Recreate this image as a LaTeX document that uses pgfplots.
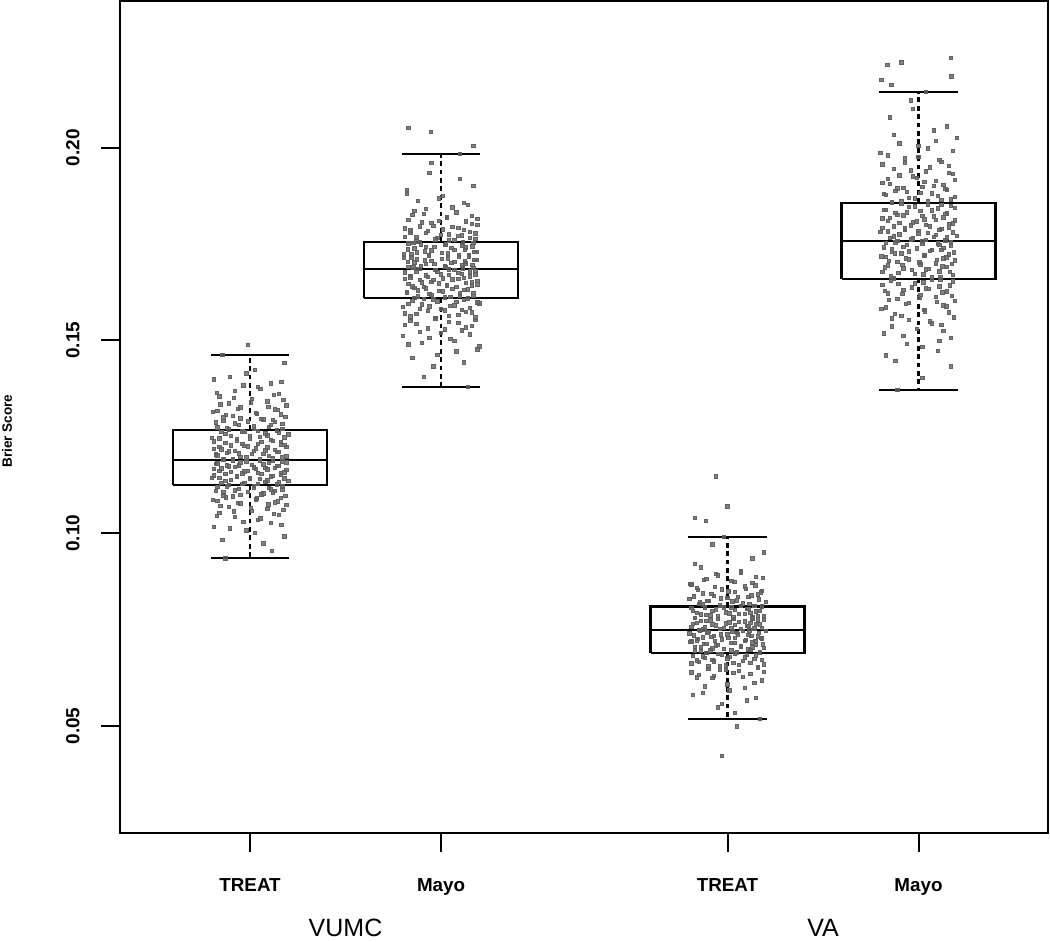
\documentclass[border=0pt]{standalone}
\usepackage{fontspec}
\setmainfont{Liberation Sans}
\usepackage{pgfplots}
\pgfplotsset{compat=1.18}
\begin{document}
\begin{tikzpicture}
\useasboundingbox (-60pt,-54.5pt) rectangle (465pt,416.5pt);
\begin{axis}[
  at={(0,0)}, anchor=south west,
  scale only axis, width=464pt, height=416pt,
  xmin=0.319, xmax=5.178, ymin=0.02225, ymax=0.2380,
  clip=false,
  axis line style={line width=1pt},
  xtick={1,2,3.5,4.5}, xticklabels={TREAT,Mayo,TREAT,Mayo},
  ytick={0.05,0.10,0.15,0.20}, yticklabels={0.05,0.10,0.15,0.20},
  xtick pos=bottom, ytick pos=left,
  tick align=outside, major tick length=9.5pt,
  every tick/.style={black, line width=1pt},
  xticklabel style={font=\fontsize{9.4}{11}\selectfont\bfseries, anchor=north, inner sep=0pt, yshift=-13pt},
  yticklabel style={font=\fontsize{9.5}{11}\selectfont\bfseries, xshift=-10.5pt, rotate=90, anchor=south, inner sep=0pt},
  pts/.style={only marks, mark=square*, mark size=0.85pt, color=black!62, mark options={draw=none, fill opacity=0.8}},
  bx/.style={black, line width=1.1pt, no marks},
  wh/.style={black, line width=1.1pt, no marks, dash pattern=on 2.4pt off 1.8pt},
]
% ---- jittered points: VUMC TREAT ----
\addplot[pts] coordinates {
(0.87,0.0935) (1.07,0.0973) (1.18,0.0992) (0.98,0.1007) (0.81,0.1017) (1.11,0.1026) (1.04,0.1034) (0.92,0.1042) (1.15,0.1047) (0.84,0.1053)
(1.01,0.1058) (1.09,0.1063) (0.89,0.1068) (1.19,0.1073) (0.95,0.1077) (1.13,0.1080) (0.83,0.1084) (1.03,0.1088) (1.16,0.1091) (0.91,0.1095)
(0.86,0.1098) (1.06,0.1101) (1.12,0.1104) (0.99,0.1107) (0.82,0.1110) (1.17,0.1112) (0.94,0.1115) (1.10,0.1118) (0.88,0.1121) (1.02,0.1123)
(1.14,0.1126) (0.96,0.1128) (0.85,0.1131) (1.08,0.1133) (1.20,0.1136) (0.90,0.1138) (1.05,0.1141) (0.80,0.1143) (1.00,0.1144) (1.11,0.1147)
(0.93,0.1149) (1.16,0.1151) (0.87,0.1154) (1.04,0.1156) (1.18,0.1158) (0.97,0.1160) (0.84,0.1162) (1.09,0.1165) (0.81,0.1167) (1.13,0.1169)
(1.02,0.1171) (0.89,0.1173) (1.15,0.1175) (0.94,0.1176) (1.07,0.1178) (0.83,0.1181) (1.19,0.1183) (0.98,0.1185) (1.12,0.1187) (0.91,0.1189)
(0.86,0.1191) (1.05,0.1193) (1.17,0.1196) (0.95,0.1198) (1.10,0.1200) (0.82,0.1204) (1.01,0.1206) (0.88,0.1208) (1.14,0.1211) (0.92,0.1213)
(1.08,0.1215) (0.85,0.1217) (1.03,0.1220) (1.19,0.1223) (0.99,0.1225) (0.90,0.1228) (1.16,0.1230) (0.96,0.1232) (1.06,0.1236) (0.81,0.1238)
(1.12,0.1240) (0.93,0.1244) (0.84,0.1246) (1.18,0.1248) (1.00,0.1252) (1.09,0.1254) (0.87,0.1257) (1.15,0.1260) (0.97,0.1263) (1.04,0.1265)
(0.89,0.1269) (1.17,0.1271) (0.83,0.1274) (1.02,0.1278) (1.11,0.1281) (0.92,0.1285) (1.13,0.1288) (0.86,0.1291) (1.07,0.1295) (0.95,0.1298)
(1.185,0.1302) (0.875,0.1306) (1.035,0.1310) (0.805,0.1314) (1.145,0.1319) (0.935,0.1323) (1.095,0.1328) (0.845,0.1334) (1.005,0.1339) (1.175,0.1345)
(0.915,0.1351) (1.125,0.1358) (0.825,0.1364) (1.055,0.1374) (0.965,0.1383) (1.165,0.1393) (0.895,0.1405) (1.025,0.1423) (0.855,0.1462) (0.99,0.1488)
};
\addplot[pts] coordinates {
(1.115,0.0954) (0.855,0.0982) (1.025,0.1000) (0.895,0.1012) (1.165,0.1022) (0.965,0.1030) (1.055,0.1038) (0.825,0.1045) (1.125,0.1050) (0.915,0.1056)
(1.175,0.1061) (1.005,0.1066) (0.845,0.1071) (1.095,0.1075) (0.935,0.1079) (1.145,0.1082) (0.805,0.1086) (1.035,0.1090) (0.875,0.1093) (1.185,0.1097)
(0.95,0.1100) (1.07,0.1103) (0.86,0.1106) (1.13,0.1109) (0.92,0.1111) (1.11,0.1114) (1.02,0.1117) (0.83,0.1120) (1.17,0.1122) (0.89,0.1125)
(1.04,0.1127) (0.97,0.1130) (1.15,0.1132) (0.87,0.1135) (1.09,0.1137) (1.00,0.1140) (1.18,0.1142) (0.84,0.1144) (0.93,0.1146) (1.12,0.1148)
(0.81,0.1150) (1.06,0.1153) (0.96,0.1155) (1.16,0.1157) (0.90,0.1159) (0.99,0.1161) (1.19,0.1164) (1.03,0.1166) (0.85,0.1168) (1.08,0.1170)
(0.92,0.1172) (1.14,0.1174) (0.88,0.1176) (1.01,0.1177) (0.82,0.1180) (1.10,0.1182) (0.95,0.1184) (1.17,0.1186) (1.05,0.1188) (0.86,0.1190)
(0.91,0.1192) (1.12,0.1195) (0.98,0.1197) (1.19,0.1199) (0.83,0.1202) (1.07,0.1205) (0.94,0.1207) (1.15,0.1210) (0.89,0.1212) (1.02,0.1214)
(1.13,0.1216) (0.81,0.1219) (1.09,0.1222) (0.84,0.1224) (0.97,0.1227) (1.18,0.1229) (1.04,0.1231) (0.87,0.1234) (1.16,0.1237) (0.93,0.1239)
(1.11,0.1242) (1.00,0.1245) (0.80,0.1247) (1.05,0.1250) (0.90,0.1253) (1.20,0.1256) (1.08,0.1259) (0.85,0.1262) (0.96,0.1264) (1.14,0.1267)
(1.02,0.1270) (0.88,0.1273) (1.10,0.1276) (0.94,0.1280) (1.17,0.1283) (0.82,0.1287) (0.99,0.1290) (1.12,0.1293) (1.06,0.1297) (0.86,0.1300)
(0.91,0.1304) (1.16,0.1308) (1.03,0.1312) (0.83,0.1317) (1.13,0.1321) (0.95,0.1326) (1.19,0.1331) (0.89,0.1337) (1.09,0.1342) (1.01,0.1348)
(0.84,0.1355) (1.15,0.1361) (0.92,0.1369) (1.04,0.1379) (1.11,0.1388) (0.81,0.1399) (0.98,0.1414) (1.18,0.1442)
};
% ---- VUMC Mayo ----
\addplot[pts] coordinates {
(2.14,0.1380) (1.96,0.1432) (1.85,0.1454) (2.08,0.1471) (2.20,0.1484) (1.90,0.1494) (2.05,0.1503) (1.80,0.1512) (2.00,0.1519) (2.11,0.1526)
(1.93,0.1531) (2.16,0.1537) (1.87,0.1543) (2.04,0.1548) (2.18,0.1553) (1.97,0.1557) (1.84,0.1562) (2.09,0.1566) (1.81,0.1570) (2.13,0.1574)
(2.02,0.1578) (1.89,0.1581) (2.15,0.1584) (1.94,0.1588) (2.07,0.1591) (1.83,0.1595) (2.19,0.1598) (1.98,0.1601) (2.12,0.1605) (1.91,0.1607)
(1.86,0.1610) (2.05,0.1613) (2.17,0.1616) (1.95,0.1618) (2.10,0.1622) (1.82,0.1624) (2.01,0.1627) (1.88,0.1630) (2.14,0.1632) (1.92,0.1635)
(2.08,0.1638) (1.85,0.1640) (2.03,0.1643) (2.19,0.1645) (1.99,0.1648) (1.90,0.1650) (2.16,0.1652) (1.96,0.1656) (2.06,0.1658) (1.81,0.1660)
(2.12,0.1662) (1.93,0.1665) (1.84,0.1667) (2.18,0.1669) (2.00,0.1671) (2.09,0.1675) (1.87,0.1677) (2.15,0.1679) (1.97,0.1682) (2.04,0.1684)
(1.89,0.1686) (2.17,0.1688) (1.83,0.1690) (2.02,0.1692) (2.11,0.1694) (1.92,0.1698) (2.13,0.1700) (1.86,0.1702) (2.07,0.1704) (1.95,0.1706)
(2.185,0.1708) (1.875,0.1710) (2.035,0.1712) (1.805,0.1715) (2.145,0.1718) (1.935,0.1720) (2.095,0.1722) (1.845,0.1724) (2.005,0.1727) (2.175,0.1729)
(1.915,0.1731) (2.125,0.1734) (1.825,0.1736) (2.055,0.1739) (1.965,0.1742) (2.165,0.1744) (1.895,0.1747) (2.025,0.1749) (1.855,0.1752) (2.115,0.1754)
(1.87,0.1757) (2.07,0.1760) (2.18,0.1763) (1.98,0.1766) (1.81,0.1769) (2.11,0.1772) (2.04,0.1775) (1.92,0.1778) (2.15,0.1782) (1.84,0.1785)
(2.01,0.1788) (2.09,0.1792) (1.89,0.1795) (2.19,0.1799) (1.95,0.1804) (2.13,0.1808) (1.83,0.1812) (2.03,0.1817) (2.16,0.1823) (1.91,0.1828)
(1.86,0.1836) (2.06,0.1845) (2.12,0.1856) (1.99,0.1868) (1.82,0.1880) (2.17,0.1900) (1.94,0.1935) (2.10,0.1984)
(2.17,0.2004) (1.948,0.2041) (1.83,0.2051)
};
\addplot[pts] coordinates {
(1.91,0.1406) (2.12,0.1443) (1.98,0.1462) (2.19,0.1477) (1.83,0.1489) (2.07,0.1498) (1.94,0.1507) (2.15,0.1515) (1.89,0.1522) (2.02,0.1528)
(2.13,0.1534) (1.81,0.1540) (2.09,0.1545) (1.84,0.1550) (1.97,0.1555) (2.18,0.1560) (2.04,0.1564) (1.87,0.1568) (2.16,0.1572) (1.93,0.1576)
(2.11,0.1579) (2.00,0.1582) (1.80,0.1586) (2.05,0.1589) (1.90,0.1593) (2.20,0.1596) (2.08,0.1599) (1.85,0.1603) (1.96,0.1606) (2.14,0.1609)
(2.02,0.1611) (1.88,0.1614) (2.10,0.1617) (1.94,0.1620) (2.17,0.1623) (1.82,0.1626) (1.99,0.1628) (2.12,0.1631) (2.06,0.1633) (1.86,0.1636)
(1.91,0.1639) (2.16,0.1641) (2.03,0.1644) (1.83,0.1646) (2.13,0.1649) (1.95,0.1651) (2.19,0.1654) (1.89,0.1657) (2.09,0.1659) (2.01,0.1661)
(1.84,0.1663) (2.15,0.1666) (1.92,0.1668) (2.04,0.1670) (2.11,0.1673) (1.81,0.1676) (1.98,0.1678) (2.18,0.1680) (2.07,0.1683) (1.87,0.1685)
(2.115,0.1687) (1.855,0.1689) (2.025,0.1691) (1.895,0.1693) (2.165,0.1696) (1.965,0.1699) (2.055,0.1701) (1.825,0.1703) (2.125,0.1705) (1.915,0.1707)
(2.175,0.1709) (2.005,0.1711) (1.845,0.1714) (2.095,0.1717) (1.935,0.1719) (2.145,0.1721) (1.805,0.1723) (2.035,0.1726) (1.875,0.1728) (2.185,0.1730)
(1.95,0.1733) (2.07,0.1735) (1.86,0.1738) (2.13,0.1741) (1.92,0.1743) (2.11,0.1746) (2.02,0.1748) (1.83,0.1751) (2.17,0.1753) (1.89,0.1756)
(2.04,0.1759) (1.97,0.1762) (2.15,0.1765) (1.87,0.1768) (2.09,0.1771) (2.00,0.1774) (2.18,0.1777) (1.84,0.1780) (1.93,0.1784) (2.12,0.1787)
(1.81,0.1790) (2.06,0.1794) (1.96,0.1797) (2.16,0.1802) (1.90,0.1806) (1.99,0.1810) (2.19,0.1815) (2.03,0.1820) (1.85,0.1826) (2.08,0.1832)
(1.92,0.1841) (2.14,0.1851) (1.88,0.1862) (2.01,0.1874) (1.82,0.1890) (2.10,0.1918) (1.95,0.1960)
};
% ---- VA TREAT ----
\addplot[pts] coordinates {
(3.47,0.0423) (3.55,0.0499) (3.67,0.0519) (3.45,0.0548) (3.60,0.0566) (3.32,0.0580) (3.51,0.0592) (3.38,0.0603) (3.64,0.0612) (3.42,0.0624)
(3.58,0.0628) (3.35,0.0632) (3.53,0.0637) (3.69,0.0641) (3.49,0.0645) (3.40,0.0648) (3.66,0.0652) (3.46,0.0656) (3.56,0.0658) (3.31,0.0662)
(3.62,0.0664) (3.43,0.0667) (3.34,0.0670) (3.68,0.0672) (3.50,0.0675) (3.59,0.0678) (3.37,0.0680) (3.65,0.0683) (3.47,0.0686) (3.54,0.0688)
(3.39,0.0690) (3.67,0.0692) (3.33,0.0695) (3.52,0.0696) (3.61,0.0699) (3.42,0.0701) (3.63,0.0704) (3.36,0.0705) (3.57,0.0707) (3.45,0.0710)
(3.685,0.0712) (3.375,0.0713) (3.535,0.0716) (3.305,0.0718) (3.645,0.0720) (3.435,0.0721) (3.595,0.0723) (3.345,0.0726) (3.505,0.0728) (3.675,0.0729)
(3.415,0.0731) (3.625,0.0733) (3.325,0.0735) (3.555,0.0737) (3.465,0.0738) (3.665,0.0741) (3.395,0.0743) (3.525,0.0745) (3.355,0.0746) (3.615,0.0748)
(3.37,0.0750) (3.57,0.0752) (3.68,0.0754) (3.48,0.0755) (3.31,0.0757) (3.61,0.0760) (3.54,0.0762) (3.42,0.0763) (3.65,0.0765) (3.34,0.0767)
(3.51,0.0769) (3.59,0.0771) (3.39,0.0772) (3.69,0.0775) (3.45,0.0777) (3.63,0.0779) (3.33,0.0781) (3.53,0.0782) (3.66,0.0785) (3.41,0.0787)
(3.36,0.0789) (3.56,0.0791) (3.62,0.0793) (3.49,0.0795) (3.32,0.0798) (3.67,0.0799) (3.44,0.0802) (3.60,0.0804) (3.38,0.0807) (3.52,0.0808)
(3.64,0.0811) (3.46,0.0813) (3.35,0.0816) (3.58,0.0818) (3.70,0.0821) (3.40,0.0824) (3.55,0.0826) (3.30,0.0829) (3.50,0.0832) (3.61,0.0835)
(3.43,0.0837) (3.66,0.0841) (3.37,0.0844) (3.54,0.0847) (3.68,0.0851) (3.47,0.0854) (3.34,0.0858) (3.59,0.0862) (3.31,0.0867) (3.63,0.0871)
(3.52,0.0876) (3.39,0.0881) (3.65,0.0887) (3.44,0.0894) (3.57,0.0901) (3.33,0.0920) (3.69,0.0950) (3.48,0.0991)
(3.387,0.1032) (3.50,0.1069) (3.33,0.1039) (3.438,0.1147)
};
\addplot[pts] coordinates {
(3.54,0.0534) (3.47,0.0557) (3.65,0.0573) (3.37,0.0586) (3.59,0.0598) (3.50,0.0608) (3.68,0.0618) (3.34,0.0626) (3.43,0.0630) (3.62,0.0635)
(3.31,0.0639) (3.56,0.0643) (3.46,0.0647) (3.66,0.0650) (3.40,0.0654) (3.49,0.0657) (3.69,0.0660) (3.53,0.0663) (3.35,0.0666) (3.58,0.0669)
(3.42,0.0671) (3.64,0.0674) (3.38,0.0677) (3.51,0.0679) (3.32,0.0682) (3.60,0.0685) (3.45,0.0687) (3.67,0.0689) (3.55,0.0691) (3.36,0.0694)
(3.41,0.0696) (3.62,0.0698) (3.48,0.0700) (3.69,0.0703) (3.33,0.0705) (3.57,0.0706) (3.44,0.0709) (3.65,0.0711) (3.39,0.0713) (3.52,0.0715)
(3.63,0.0717) (3.31,0.0719) (3.59,0.0721) (3.34,0.0722) (3.47,0.0725) (3.68,0.0727) (3.54,0.0729) (3.37,0.0730) (3.66,0.0732) (3.43,0.0734)
(3.61,0.0736) (3.50,0.0738) (3.30,0.0740) (3.55,0.0742) (3.40,0.0744) (3.70,0.0746) (3.58,0.0747) (3.35,0.0749)
(3.46,0.0751) (3.64,0.0753) (3.52,0.0755) (3.38,0.0756) (3.60,0.0759) (3.44,0.0761) (3.67,0.0763) (3.32,0.0764) (3.49,0.0766) (3.62,0.0768)
(3.56,0.0770) (3.36,0.0772) (3.41,0.0774) (3.66,0.0776) (3.53,0.0778) (3.33,0.0780) (3.63,0.0782) (3.45,0.0784) (3.69,0.0786) (3.39,0.0788)
(3.59,0.0790) (3.51,0.0792) (3.34,0.0794) (3.65,0.0797) (3.42,0.0799) (3.54,0.0801) (3.61,0.0803) (3.31,0.0806) (3.48,0.0808) (3.68,0.0810)
(3.57,0.0812) (3.37,0.0815) (3.615,0.0817) (3.355,0.0820) (3.525,0.0823) (3.395,0.0825) (3.665,0.0828) (3.465,0.0831) (3.555,0.0834) (3.325,0.0836)
(3.625,0.0839) (3.415,0.0843) (3.675,0.0846) (3.505,0.0849) (3.345,0.0853) (3.595,0.0856) (3.435,0.0860) (3.645,0.0865) (3.305,0.0869) (3.535,0.0874)
(3.375,0.0879) (3.685,0.0884) (3.45,0.0891) (3.57,0.0898) (3.36,0.0911) (3.63,0.0935) (3.42,0.0971)
};
% ---- VA Mayo ----
\addplot[pts] coordinates {
(4.39,0.1372) (4.67,0.1432) (4.33,0.1461) (4.52,0.1483) (4.61,0.1499) (4.42,0.1512) (4.63,0.1524) (4.36,0.1536) (4.57,0.1544) (4.45,0.1553)
(4.685,0.1560) (4.375,0.1568) (4.535,0.1575) (4.305,0.1582) (4.645,0.1588) (4.435,0.1594) (4.595,0.1600) (4.345,0.1605) (4.505,0.1610) (4.675,0.1616)
(4.415,0.1620) (4.625,0.1624) (4.325,0.1629) (4.555,0.1633) (4.465,0.1637) (4.665,0.1642) (4.395,0.1646) (4.525,0.1650) (4.355,0.1655) (4.615,0.1658)
(4.37,0.1662) (4.57,0.1665) (4.68,0.1669) (4.48,0.1672) (4.31,0.1677) (4.61,0.1679) (4.54,0.1684) (4.42,0.1687) (4.65,0.1690) (4.34,0.1694)
(4.51,0.1697) (4.59,0.1700) (4.39,0.1704) (4.69,0.1707) (4.45,0.1710) (4.63,0.1713) (4.33,0.1716) (4.53,0.1720) (4.66,0.1723) (4.41,0.1726)
(4.36,0.1729) (4.56,0.1732) (4.62,0.1735) (4.49,0.1738) (4.32,0.1741) (4.67,0.1745) (4.44,0.1748) (4.60,0.1751) (4.38,0.1754) (4.52,0.1757)
(4.64,0.1759) (4.46,0.1762) (4.35,0.1765) (4.58,0.1768) (4.70,0.1771) (4.40,0.1775) (4.55,0.1778) (4.30,0.1781) (4.50,0.1784) (4.61,0.1787)
(4.43,0.1790) (4.66,0.1793) (4.37,0.1796) (4.54,0.1800) (4.68,0.1803) (4.47,0.1806) (4.34,0.1809) (4.59,0.1812) (4.31,0.1816) (4.63,0.1819)
(4.52,0.1822) (4.39,0.1826) (4.65,0.1829) (4.44,0.1832) (4.57,0.1837) (4.33,0.1839) (4.69,0.1844) (4.48,0.1847) (4.62,0.1851) (4.41,0.1854)
(4.36,0.1858) (4.55,0.1861) (4.67,0.1866) (4.45,0.1870) (4.60,0.1874) (4.32,0.1879) (4.51,0.1883) (4.38,0.1887) (4.64,0.1892) (4.42,0.1896)
(4.58,0.1900) (4.35,0.1906) (4.53,0.1911) (4.69,0.1916) (4.49,0.1922) (4.40,0.1928) (4.66,0.1934) (4.46,0.1941) (4.56,0.1948) (4.31,0.1956)
(4.62,0.1963) (4.43,0.1972) (4.34,0.1980) (4.68,0.1992) (4.50,0.2004) (4.59,0.2017) (4.37,0.2033) (4.65,0.2055) (4.47,0.2100) (4.54,0.2144)
(4.359,0.2163) (4.306,0.2176) (4.673,0.2184) (4.338,0.2214) (4.411,0.2221) (4.671,0.2232)
};
\addplot[pts] coordinates {
(4.52,0.1402) (4.38,0.1447) (4.60,0.1472) (4.44,0.1491) (4.67,0.1506) (4.32,0.1518) (4.49,0.1530) (4.62,0.1540) (4.56,0.1549) (4.36,0.1557)
(4.41,0.1564) (4.66,0.1572) (4.53,0.1579) (4.33,0.1585) (4.63,0.1591) (4.45,0.1597) (4.69,0.1603) (4.39,0.1608) (4.59,0.1613) (4.51,0.1618)
(4.34,0.1622) (4.65,0.1627) (4.42,0.1631) (4.54,0.1635) (4.61,0.1640) (4.31,0.1644) (4.48,0.1648) (4.68,0.1653) (4.57,0.1657) (4.37,0.1660)
(4.615,0.1664) (4.355,0.1667) (4.525,0.1671) (4.395,0.1675) (4.665,0.1678) (4.465,0.1682) (4.555,0.1686) (4.325,0.1689) (4.625,0.1692) (4.415,0.1696)
(4.675,0.1699) (4.505,0.1702) (4.345,0.1706) (4.595,0.1709) (4.435,0.1712) (4.645,0.1715) (4.305,0.1718) (4.535,0.1722) (4.375,0.1725) (4.685,0.1728)
(4.45,0.1731) (4.57,0.1734) (4.36,0.1737) (4.63,0.1740) (4.42,0.1743) (4.61,0.1747) (4.52,0.1750) (4.33,0.1753) (4.67,0.1756) (4.39,0.1758)
(4.54,0.1761) (4.47,0.1764) (4.65,0.1767) (4.37,0.1770) (4.59,0.1773) (4.50,0.1777) (4.68,0.1780) (4.34,0.1783) (4.43,0.1786) (4.62,0.1789)
(4.31,0.1792) (4.56,0.1795) (4.46,0.1798) (4.66,0.1802) (4.40,0.1805) (4.49,0.1808) (4.69,0.1811) (4.53,0.1814) (4.35,0.1818) (4.58,0.1821)
(4.42,0.1824) (4.64,0.1828) (4.38,0.1831) (4.51,0.1835) (4.32,0.1838) (4.60,0.1842) (4.45,0.1846) (4.67,0.1849) (4.55,0.1853) (4.36,0.1856)
(4.41,0.1860) (4.62,0.1864) (4.48,0.1868) (4.69,0.1872) (4.33,0.1877) (4.57,0.1881) (4.44,0.1885) (4.65,0.1890) (4.39,0.1894) (4.52,0.1898)
(4.63,0.1903) (4.31,0.1909) (4.59,0.1914) (4.34,0.1919) (4.47,0.1925) (4.68,0.1931) (4.54,0.1938) (4.37,0.1945) (4.66,0.1952) (4.43,0.1960)
(4.61,0.1968) (4.50,0.1976) (4.30,0.1986) (4.55,0.1998) (4.40,0.2011) (4.70,0.2025) (4.58,0.2044) (4.35,0.2078) (4.46,0.2122)
};
% ---- boxes: VUMC TREAT ----
\addplot[bx] coordinates {(0.597,0.1125) (1.403,0.1125) (1.403,0.1268) (0.597,0.1268) (0.597,0.1125)};
\addplot[bx] coordinates {(0.597,0.1190) (1.403,0.1190)};
\addplot[wh] coordinates {(1,0.1268) (1,0.1462)};
\addplot[wh] coordinates {(1,0.1125) (1,0.0935)};
\addplot[bx] coordinates {(0.795,0.1462) (1.205,0.1462)};
\addplot[bx] coordinates {(0.795,0.0935) (1.205,0.0935)};
% ---- VUMC Mayo ----
\addplot[bx] coordinates {(1.597,0.1609) (2.403,0.1609) (2.403,0.1756) (1.597,0.1756) (1.597,0.1609)};
\addplot[bx] coordinates {(1.597,0.1685) (2.403,0.1685)};
\addplot[wh] coordinates {(2,0.1756) (2,0.1984)};
\addplot[wh] coordinates {(2,0.1609) (2,0.1380)};
\addplot[bx] coordinates {(1.795,0.1984) (2.205,0.1984)};
\addplot[bx] coordinates {(1.795,0.1380) (2.205,0.1380)};
% ---- VA TREAT ----
\addplot[bx] coordinates {(3.097,0.0689) (3.903,0.0689) (3.903,0.0810) (3.097,0.0810) (3.097,0.0689)};
\addplot[bx] coordinates {(3.097,0.0749) (3.903,0.0749)};
\addplot[wh] coordinates {(3.5,0.0810) (3.5,0.0991)};
\addplot[wh] coordinates {(3.5,0.0689) (3.5,0.0519)};
\addplot[bx] coordinates {(3.295,0.0991) (3.705,0.0991)};
\addplot[bx] coordinates {(3.295,0.0519) (3.705,0.0519)};
% ---- VA Mayo ----
\addplot[bx] coordinates {(4.097,0.1660) (4.903,0.1660) (4.903,0.1856) (4.097,0.1856) (4.097,0.1660)};
\addplot[bx] coordinates {(4.097,0.1758) (4.903,0.1758)};
\addplot[wh] coordinates {(4.5,0.1856) (4.5,0.2144)};
\addplot[wh] coordinates {(4.5,0.1660) (4.5,0.1372)};
\addplot[bx] coordinates {(4.295,0.2144) (4.705,0.2144)};
\addplot[bx] coordinates {(4.295,0.1372) (4.705,0.1372)};
% ---- group labels and y label ----
\node[anchor=base, inner sep=0pt, font=\fontsize{12.5}{15}\selectfont] at ([yshift=-51.5pt]axis cs:1.5,0.02225) {VUMC};
\node[anchor=base, inner sep=0pt, font=\fontsize{12.5}{15}\selectfont] at ([yshift=-51.5pt]axis cs:4,0.02225) {VA};
\node[rotate=90, anchor=base, inner sep=0pt, font=\fontsize{6.8}{8}\selectfont\bfseries] at ([xshift=-54pt]rel axis cs:0,0.483) {Brier Score};
\end{axis}
\end{tikzpicture}
\end{document}
